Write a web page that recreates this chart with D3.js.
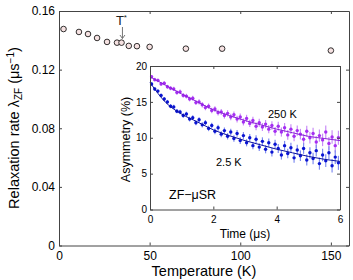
<!DOCTYPE html>
<html>
<head>
<meta charset="utf-8">
<script src="https://cdn.jsdelivr.net/npm/d3@7"></script>
<style>
  body { margin: 0; background: #fff; }
  svg { display: block; font-family: "Liberation Sans", Arial, sans-serif; }
</style>
</head>
<body>
<div class="chart"></div>
<script>
// main panel: zero-field relaxation rate vs temperature
var temps = [2.5, 11, 16, 21, 26.5, 32, 34.5, 38.5, 43, 50, 70, 90, 150];
var lambdaZF = [0.1477, 0.1457, 0.1443, 0.1416, 0.1389, 0.1384, 0.1384, 0.1362, 0.1360, 0.1355, 0.1343, 0.1343, 0.1330];
var tempTicks = [0, 50, 100, 150];
var rateTicks = [0, 0.04, 0.08, 0.12, 0.16];
var tStar = 35;

// inset: asymmetry spectra
var times = [0.05, 0.15, 0.25, 0.35, 0.45, 0.55, 0.65, 0.75, 0.85, 0.95,
             1.05, 1.15, 1.25, 1.35, 1.45, 1.55, 1.65, 1.75, 1.85, 1.95,
             2.05, 2.15, 2.25, 2.35, 2.45, 2.55, 2.65, 2.75, 2.85, 2.95,
             3.05, 3.15, 3.25, 3.35, 3.45, 3.55, 3.65, 3.75, 3.85, 3.95,
             4.05, 4.15, 4.25, 4.35, 4.45, 4.55, 4.65, 4.75, 4.85, 4.95,
             5.05, 5.15, 5.25, 5.35, 5.45, 5.55, 5.65, 5.75, 5.85, 5.95];
var asym250K = [18.5, 18.1, 18.0, 17.5, 17.6, 17.1, 16.9, 16.8, 16.3, 16.4,
                15.9, 15.8, 15.4, 15.5, 14.9, 15.0, 14.6, 14.2, 14.4, 13.8,
                14.0, 13.5, 13.6, 13.1, 13.4, 12.9, 13.2, 12.6, 12.9, 12.2,
                12.7, 12.0, 12.4, 11.6, 12.1, 11.5, 11.9, 11.2, 11.7, 10.9,
                11.6, 10.8, 11.4, 10.4, 11.2, 10.2, 11.0, 10.5, 9.8, 10.9,
                10.0, 10.6, 9.4, 10.3, 9.7, 10.8, 9.2, 10.1, 8.9, 10.0];
var asym2K = [17.5, 16.8, 16.5, 15.9, 15.4, 15.0, 14.4, 14.3, 13.7, 13.6,
              13.1, 13.3, 12.6, 12.8, 12.1, 12.5, 11.8, 12.1, 11.3, 11.7,
              10.9, 11.4, 10.5, 11.0, 10.2, 10.8, 9.9, 10.6, 9.6, 10.3,
              9.3, 10.0, 8.9, 9.8, 8.7, 9.5, 8.4, 9.3, 8.0, 9.1,
              8.5, 7.6, 8.9, 7.8, 8.6, 7.2, 8.3, 7.5, 8.5, 6.9,
              7.9, 7.1, 8.2, 6.4, 7.6, 6.8, 7.9, 6.1, 7.3, 6.5];
var asymErr = [0.25, 0.26, 0.26, 0.27, 0.28, 0.28, 0.29, 0.30, 0.30, 0.31,
               0.32, 0.33, 0.33, 0.34, 0.35, 0.36, 0.37, 0.37, 0.38, 0.39,
               0.40, 0.41, 0.42, 0.43, 0.44, 0.45, 0.46, 0.47, 0.48, 0.49,
               0.50, 0.51, 0.52, 0.54, 0.55, 0.56, 0.57, 0.59, 0.60, 0.61,
               0.63, 0.64, 0.66, 0.67, 0.69, 0.70, 0.72, 0.74, 0.75, 0.77,
               0.79, 0.81, 0.83, 0.85, 0.87, 0.89, 0.91, 0.93, 0.95, 0.98];
var fitTimes = [0, 0.5, 1, 1.5, 2, 2.5, 3, 3.5, 4, 4.5, 5, 5.5, 6];
var fit250K = [18.5, 17.3, 16.1, 15.0, 13.9, 13.1, 12.4, 11.8, 11.2, 10.7, 10.2, 9.9, 9.6];
var fit2K = [17.7, 14.9, 13.3, 12.2, 11.1, 10.3, 9.6, 9.0, 8.4, 7.9, 7.4, 7.0, 6.7];
var timeTicks = [0, 2, 4, 6];
var asymTicks = [0, 5, 10, 15, 20];

var svgWidth = 353;
var svgHeight = 280;
var axisColor = "#444";

var svg = d3.select(".chart").append("svg")
    .attr("width", svgWidth)
    .attr("height", svgHeight);

// ---- main axes ----
var xScale = d3.scaleLinear().domain([0, 160]).range([59, 349]);
var yScale = d3.scaleLinear().domain([0, 0.16]).range([245.5, 11]);

function styleAxis(g, size) {
    g.selectAll("path.domain").attr("stroke", axisColor);
    g.selectAll(".tick line").attr("stroke", axisColor);
    g.selectAll(".tick text").attr("fill", "#000").style("font-size", size + "px")
        .style("font-family", "'Liberation Sans', Arial, sans-serif");
}

var rateFmt = function(d) { return d === 0 ? "0" : d.toFixed(2); };
var intFmt = d3.format("d");

svg.append("g")
    .attr("transform", "translate(0,11)")
    .call(d3.axisTop(xScale).tickValues(tempTicks).tickSizeInner(-3).tickSizeOuter(0).tickFormat(""))
    .call(styleAxis, 12);
svg.append("g")
    .attr("transform", "translate(349,0)")
    .call(d3.axisRight(yScale).tickValues(rateTicks).tickSizeInner(-3).tickSizeOuter(0).tickFormat(""))
    .call(styleAxis, 12);
svg.append("g")
    .attr("transform", "translate(0,245.5)")
    .call(d3.axisBottom(xScale).tickValues(tempTicks).tickSizeInner(-3).tickSizeOuter(0).tickPadding(6).tickFormat(intFmt))
    .call(styleAxis, 12);
svg.append("g")
    .attr("transform", "translate(59,0)")
    .call(d3.axisLeft(yScale).tickValues(rateTicks).tickSizeInner(-3).tickSizeOuter(0).tickPadding(4).tickFormat(rateFmt))
    .call(styleAxis, 12);

// axis titles
var yTitle = svg.append("text")
    .attr("transform", "translate(19,128) rotate(-90)")
    .attr("text-anchor", "middle")
    .style("font-size", "14.5px");
yTitle.append("tspan").text("Relaxation rate \u03bb");
yTitle.append("tspan").attr("dy", 3).style("font-size", "10px").text("ZF");
yTitle.append("tspan").attr("dy", -3).text(" (\u03bcs");
yTitle.append("tspan").attr("dy", -5).style("font-size", "10px").text("\u22121");
yTitle.append("tspan").attr("dy", 5).text(")");

svg.append("text")
    .attr("x", 204)
    .attr("y", 276)
    .attr("text-anchor", "middle")
    .style("font-size", "14.5px")
    .text("Temperature (K)");

// data circles
svg.append("g").selectAll("circle")
    .data(temps)
    .enter()
    .append("circle")
    .attr("cx", function(d) { return xScale(d); })
    .attr("cy", function(d, i) { return yScale(lambdaZF[i]); })
    .attr("r", 2.8)
    .attr("fill", "#f6e2e2")
    .attr("stroke", "#000")
    .attr("stroke-width", 0.8);

// T* marker
var tx = xScale(tStar);
var starLabel = svg.append("text")
    .attr("x", tx - 1)
    .attr("y", 25)
    .attr("text-anchor", "middle")
    .style("font-size", "13px")
    .attr("fill", "#222");
starLabel.append("tspan").text("T");
starLabel.append("tspan").attr("dy", -5).style("font-size", "8px").text("*");
svg.append("line")
    .attr("x1", tx).attr("x2", tx)
    .attr("y1", 27).attr("y2", 38.5)
    .attr("stroke", "#666").attr("stroke-width", 0.9);
svg.append("path")
    .attr("d", "M" + (tx - 2.5) + ",35 L" + tx + ",38.5 L" + (tx + 2.5) + ",35")
    .attr("fill", "none")
    .attr("stroke", "#666").attr("stroke-width", 0.9);

// ---- inset ----
var inset = { left: 150, right: 340, top: 66, bottom: 209.5 };
var tScale = d3.scaleLinear().domain([0, 6]).range([inset.left, inset.right]);
var aScale = d3.scaleLinear().domain([0, 20]).range([inset.bottom, inset.top]);

svg.append("rect")
    .attr("x", inset.left).attr("y", inset.top)
    .attr("width", inset.right - inset.left)
    .attr("height", inset.bottom - inset.top)
    .attr("fill", "#fff");

var plotG = svg.append("g");

function drawSeries(vals, dotColor, barColor) {
    var g = plotG.append("g");
    g.selectAll("line")
        .data(vals)
        .enter()
        .append("line")
        .attr("x1", function(d, i) { return tScale(times[i]); })
        .attr("x2", function(d, i) { return tScale(times[i]); })
        .attr("y1", function(d, i) { return aScale(d - asymErr[i]); })
        .attr("y2", function(d, i) { return aScale(d + asymErr[i]); })
        .attr("stroke", barColor)
        .attr("stroke-width", 1.2);
    g.selectAll("circle")
        .data(vals)
        .enter()
        .append("circle")
        .attr("cx", function(d, i) { return tScale(times[i]); })
        .attr("cy", function(d) { return aScale(d); })
        .attr("r", 1.7)
        .attr("fill", dotColor);
}

drawSeries(asym250K, "#a52ef2", "#c98ef7");
drawSeries(asym2K, "#0a14d2", "#7f8cf0");

var fitLine = d3.line()
    .x(function(d, i) { return tScale(fitTimes[i]); })
    .y(function(d) { return aScale(d); })
    .curve(d3.curveMonotoneX);

plotG.append("path").datum(fit250K)
    .attr("d", fitLine).attr("fill", "none")
    .attr("stroke", "#8a20d8").attr("stroke-width", 1);
plotG.append("path").datum(fit2K)
    .attr("d", fitLine).attr("fill", "none")
    .attr("stroke", "#0a10a0").attr("stroke-width", 1);

svg.append("g")
    .attr("transform", "translate(0," + inset.top + ")")
    .call(d3.axisTop(tScale).tickValues(timeTicks).tickSizeInner(-3).tickSizeOuter(0).tickFormat(""))
    .call(styleAxis, 10);
svg.append("g")
    .attr("transform", "translate(" + inset.right + ",0)")
    .call(d3.axisRight(aScale).tickValues(asymTicks).tickSizeInner(-3).tickSizeOuter(0).tickFormat(""))
    .call(styleAxis, 10);
svg.append("g")
    .attr("transform", "translate(0," + inset.bottom + ")")
    .call(d3.axisBottom(tScale).tickValues(timeTicks).tickSizeInner(-3).tickSizeOuter(0).tickPadding(6).tickFormat(intFmt))
    .call(styleAxis, 10);
svg.append("g")
    .attr("transform", "translate(" + inset.left + ",0)")
    .call(d3.axisLeft(aScale).tickValues(asymTicks).tickSizeInner(-3).tickSizeOuter(0).tickPadding(3).tickFormat(intFmt))
    .call(styleAxis, 10);

svg.append("text")
    .attr("transform", "translate(129.5,139.5) rotate(-90)")
    .attr("text-anchor", "middle")
    .style("font-size", "12.5px")
    .text("Asymmetry (%)");

svg.append("text")
    .attr("x", 245)
    .attr("y", 238)
    .attr("text-anchor", "middle")
    .style("font-size", "12px")
    .text("Time (\u03bcs)");

svg.append("text")
    .attr("x", 169).attr("y", 199)
    .style("font-size", "12.5px")
    .text("ZF\u2212\u03bcSR");
svg.append("text")
    .attr("x", 268).attr("y", 118)
    .style("font-size", "11px")
    .text("250 K");
svg.append("text")
    .attr("x", 216).attr("y", 165.5)
    .style("font-size", "11px")
    .text("2.5 K");
</script>
</body>
</html>
